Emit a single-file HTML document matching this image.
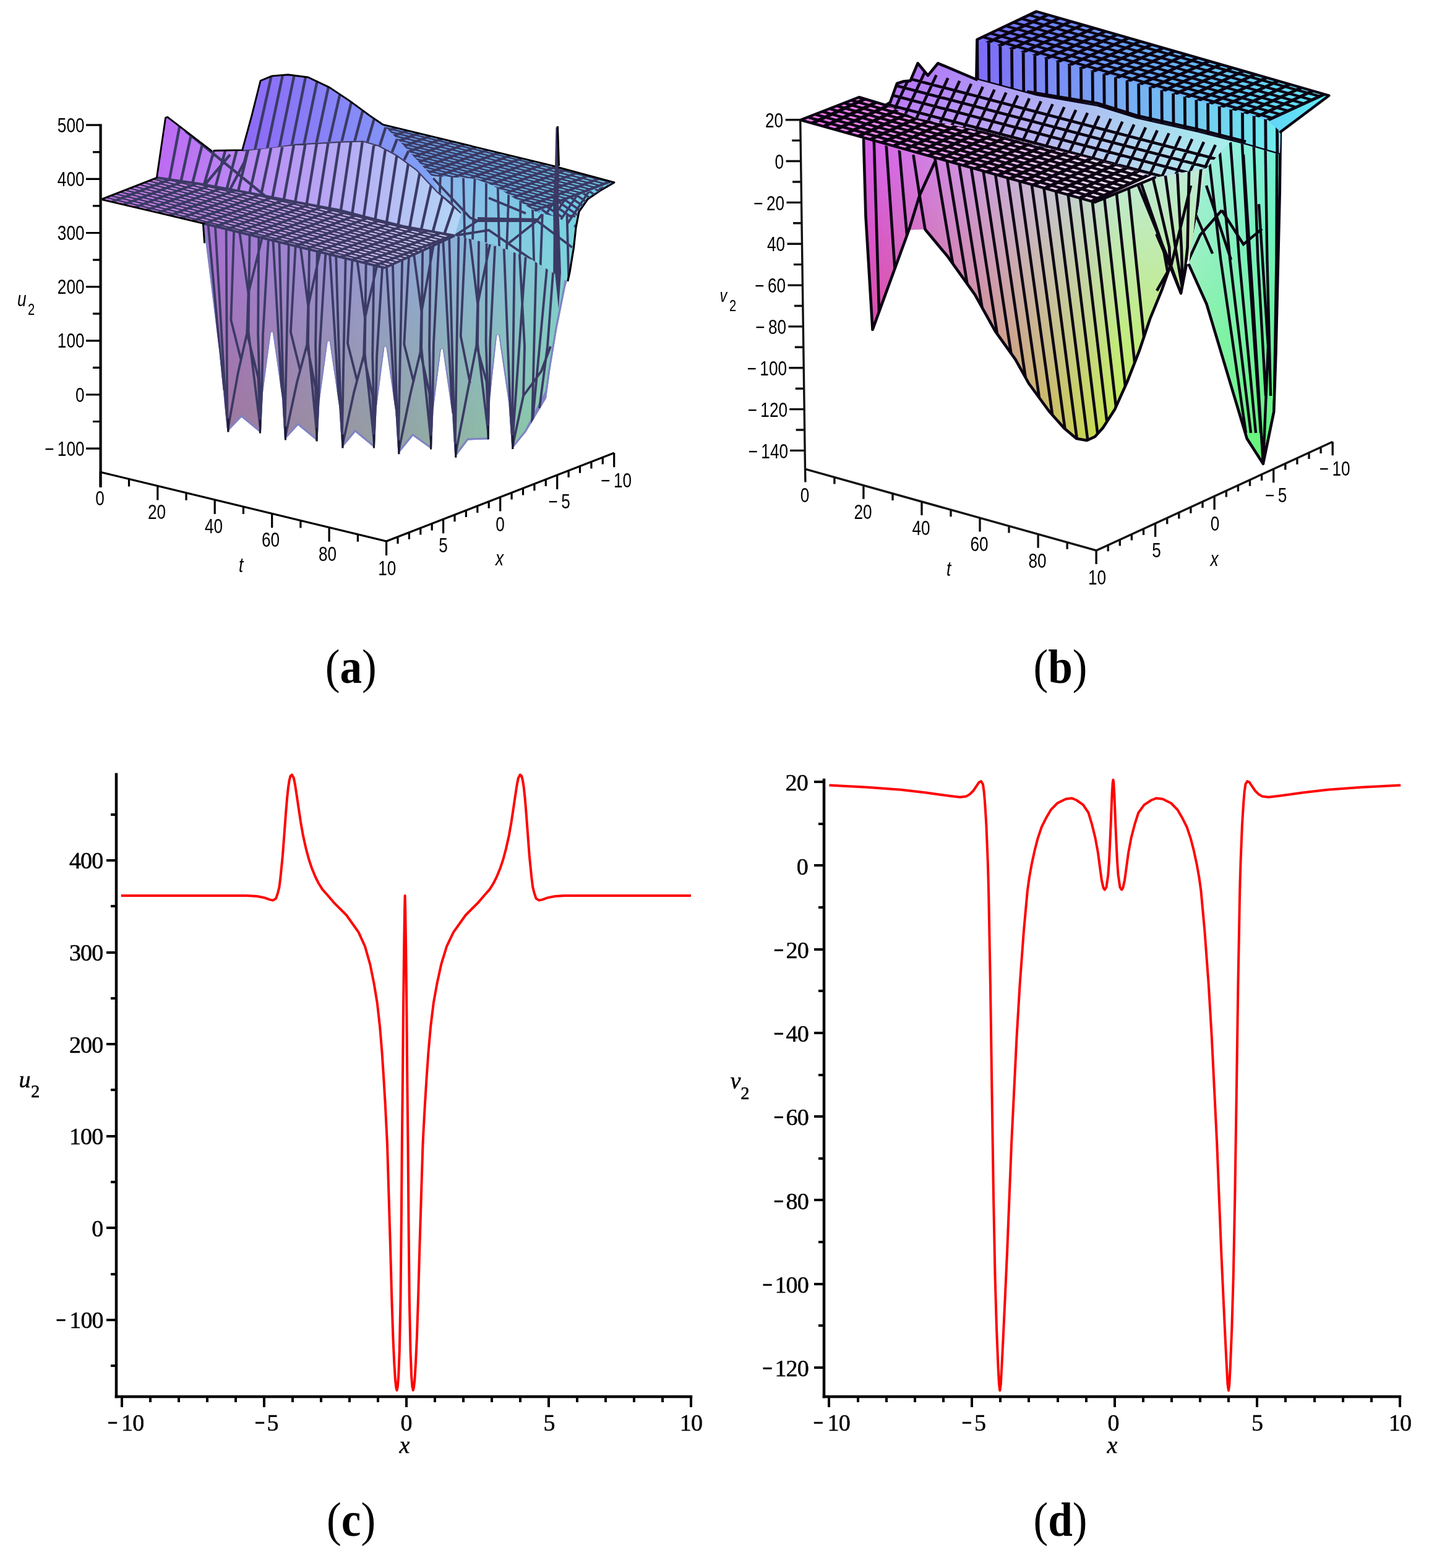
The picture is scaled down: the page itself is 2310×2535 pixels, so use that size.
<!DOCTYPE html>
<html><head><meta charset="utf-8"><title>Figure</title>
<style>html,body{margin:0;padding:0;background:#fff}svg{display:block}</style>
</head><body>
<svg width="2310" height="2535" viewBox="0 0 2310 2535">
<rect width="2310" height="2535" fill="#fff"/>
<defs><linearGradient id="a1" gradientUnits="userSpaceOnUse" x1="0" y1="199.3" x2="0" y2="369.7"><stop offset="0" stop-color="#6996eb"/><stop offset="1" stop-color="#6996eb"/></linearGradient><linearGradient id="b2" gradientUnits="userSpaceOnUse" x1="0" y1="199.3" x2="0" y2="369.7"><stop offset="0" stop-color="#70d4e4"/><stop offset="1" stop-color="#70d4e4"/></linearGradient><linearGradient id="h4" gradientUnits="userSpaceOnUse" x1="616.7" y1="0" x2="995" y2="0"><stop offset="0" stop-color="#000"/><stop offset="1" stop-color="#fff"/></linearGradient><mask id="m3" maskUnits="userSpaceOnUse" x="616.7" y="199.3" width="378.3" height="170.4"><rect x="616.7" y="199.3" width="378.3" height="170.4" fill="url(#h4)"/></mask><clipPath id="c5"><polygon points="618.7,201.3 896,268.7 993,294.8 972,307 950,322 933,346 929.8,367.7 900,352 870,345 802,302 767,289 698,285 650,233"/></clipPath></defs><g clip-path="url(#c5)"><rect x="616.7" y="199.3" width="378.3" height="170.4" fill="url(#a1)"/><rect x="616.7" y="199.3" width="378.3" height="170.4" fill="url(#b2)" mask="url(#m3)"/></g>
<path d="M162.3 322 L624.6 433.7M170 319 L632.3 430.7M177.6 316.1 L639.9 427.8M185.3 313.1 L647.6 424.8M193 310.1 L655.3 421.8M200.6 307.1 L662.9 418.8M208.3 304.2 L670.6 415.9M216 301.2 L678.3 412.9M223.7 298.2 L686 409.9M231.3 295.2 L693.6 406.9M239 292.3 L701.3 404M246.7 289.3 L709 401M254.3 286.3 L716.6 398M262 283.4 L724.3 395.1M269.7 280.4 L732 392.1M277.3 277.4 L739.6 389.1M285 274.4 L747.3 386.1M292.7 271.5 L755 383.2M300.3 268.5 L762.6 380.2M308 265.5 L770.3 377.2M315.7 262.5 L778 374.2M323.3 259.6 L785.6 371.3M331 256.6 L793.3 368.3M338.7 253.6 L801 365.3M346.4 250.7 L808.7 362.4M354 247.7 L816.3 359.4M361.7 244.7 L824 356.4M369.4 241.7 L831.7 353.4M377 238.8 L839.3 350.5M384.7 235.8 L847 347.5M392.4 232.8 L854.7 344.5M400 229.8 L862.3 341.5M407.7 226.9 L870 338.6M415.4 223.9 L877.7 335.6M423 220.9 L885.3 332.6M430.7 217.9 L893 329.6M438.4 215 L900.7 326.7M446 212 L908.3 323.7M453.7 209 L916 320.7M461.4 206.1 L923.7 317.8M469.1 203.1 L931.4 314.8M476.7 200.1 L939 311.8M484.4 197.1 L946.7 308.8M492.1 194.2 L954.4 305.9M499.7 191.2 L962 302.9M507.4 188.2 L969.7 299.9M515.1 185.2 L977.4 296.9M522.7 182.3 L985 294M530.4 179.3 L992.7 291" fill="none" stroke="#3b3a65" stroke-width="2.7" stroke-linecap="butt" clip-path="url(#c5)"/><path d="M162.3 322 L530.4 179.3M180.8 326.5 L548.9 183.8M199.3 330.9 L567.4 188.2M217.8 335.4 L585.9 192.7M236.3 339.9 L604.4 197.2M254.8 344.3 L622.9 201.6M273.3 348.8 L641.4 206.1M291.7 353.3 L659.8 210.6M310.2 357.7 L678.3 215M328.7 362.2 L696.8 219.5M347.2 366.7 L715.3 224M365.7 371.1 L733.8 228.4M384.2 375.6 L752.3 232.9M402.7 380.1 L770.8 237.4M421.2 384.6 L789.3 241.9M439.7 389 L807.8 246.3M458.2 393.5 L826.3 250.8M476.7 398 L844.8 255.3M495.2 402.4 L863.3 259.7M513.6 406.9 L881.7 264.2M532.1 411.4 L900.2 268.7M550.6 415.8 L918.7 273.1M569.1 420.3 L937.2 277.6M587.6 424.8 L955.7 282.1M606.1 429.2 L974.2 286.5M624.6 433.7 L992.7 291" fill="none" stroke="#3b3a65" stroke-width="4.2" stroke-linecap="butt" clip-path="url(#c5)"/>
<defs><linearGradient id="a6" gradientUnits="userSpaceOnUse" x1="0" y1="118.7" x2="0" y2="332"><stop offset="0" stop-color="#8e69f8"/><stop offset="1" stop-color="#8e69f8"/></linearGradient><linearGradient id="b7" gradientUnits="userSpaceOnUse" x1="0" y1="118.7" x2="0" y2="332"><stop offset="0" stop-color="#7da8f5"/><stop offset="1" stop-color="#7da8f5"/></linearGradient><linearGradient id="h9" gradientUnits="userSpaceOnUse" x1="389.7" y1="0" x2="730.6" y2="0"><stop offset="0" stop-color="#000"/><stop offset="1" stop-color="#fff"/></linearGradient><mask id="m8" maskUnits="userSpaceOnUse" x="389.7" y="118.7" width="340.9" height="213.3"><rect x="389.7" y="118.7" width="340.9" height="213.3" fill="url(#h9)"/></mask><clipPath id="c10"><polygon points="391.7,242.6 406.9,187.1 421.1,130.5 439.6,122.9 465.7,120.7 498.4,125 532.7,141.4 565.3,163.1 598,187.1 618.7,201.3 650,233 698,285 728.6,326.4 700,330 641.5,270 613,255 587,247.4 550,248.5 476.6,252.8 433,259.4 391.7,262"/></clipPath></defs><g clip-path="url(#c10)"><rect x="389.7" y="118.7" width="340.9" height="213.3" fill="url(#a6)"/><rect x="389.7" y="118.7" width="340.9" height="213.3" fill="url(#b7)" mask="url(#m8)"/></g>
<path d="M410.9 247.3 L438.5 123.4M429.4 251.7 L457 121.4M447.9 256.2 L475.5 122M466.4 260.7 L494 124.4M484.8 265.1 L512.5 131.7M503.3 269.6 L530.9 140.6M521.8 274.1 L549.4 152.5M540.3 278.6 L567.9 165M558.8 283 L586.4 178.6M577.3 287.5 L604.9 191.8M595.8 292 L623.4 206M614.3 296.4 L641.9 224.8M632.8 300.9 L660.4 244.2" fill="none" stroke="#3b3a65" stroke-width="4.4" stroke-linecap="butt" clip-path="url(#c10)"/>
<defs><linearGradient id="a11" gradientUnits="userSpaceOnUse" x1="0" y1="187.3" x2="0" y2="383"><stop offset="0" stop-color="#bc68f5"/><stop offset="1" stop-color="#c06ef0"/></linearGradient><linearGradient id="b12" gradientUnits="userSpaceOnUse" x1="0" y1="187.3" x2="0" y2="383"><stop offset="0" stop-color="#b0d4f6"/><stop offset="1" stop-color="#b4d7f4"/></linearGradient><linearGradient id="h14" gradientUnits="userSpaceOnUse" x1="251.4" y1="0" x2="748" y2="0"><stop offset="0" stop-color="#000"/><stop offset="1" stop-color="#fff"/></linearGradient><mask id="m13" maskUnits="userSpaceOnUse" x="251.4" y="187.3" width="496.6" height="195.7"><rect x="251.4" y="187.3" width="496.6" height="195.7" fill="url(#h14)"/></mask><clipPath id="c15"><polygon points="253.4,287.3 267.6,190.4 270.9,189.3 341.6,243.6 346,243.6 391.7,242.6 433,239.4 476.6,232.8 550,228.5 587,227.4 613,235 641.5,250.2 674.2,274.2 706.8,309 728.6,326.4 746,343.9 735,381 652,366 587,350 550,340 477,326.5 411,313.4 324,297.5"/></clipPath></defs><g clip-path="url(#c15)"><rect x="251.4" y="187.3" width="496.6" height="195.7" fill="url(#a11)"/><rect x="251.4" y="187.3" width="496.6" height="195.7" fill="url(#b12)" mask="url(#m13)"/></g>
<path d="M272.8 296.1 L290.3 204.2M291.3 298.8 L308.8 218.4M309.8 301.4 L327.3 232.6M328.3 304.3 L345.8 243.6M346.8 307.7 L364.2 243.2M365.2 311 L382.7 242.8M383.7 314.4 L401.2 241.9M402.2 317.8 L419.7 240.4M420.7 321.3 L438.2 238.6M439.2 325 L456.7 235.8M457.7 328.7 L475.2 233M476.2 332.3 L493.7 231.8M494.7 335.8 L512.2 230.7M513.2 339.2 L530.7 229.6M531.6 342.6 L549.1 228.5M550.1 346 L567.6 228M568.6 351 L586.1 227.4M587.1 356 L604.6 232.6M605.6 360.6 L623.1 240.4M624.1 365.1 L641.6 250.3M642.6 369.7 L660.1 263.8M661.1 373.6 L678.6 278.9M679.6 377 L697.1 298.6M698.1 380.3 L715.6 316M716.5 383.7 L734 331.9M300 212 L343 247 L430 318M330 300 L372 250M372 306 L395 262 L400 243M391.7 242.6 L476.6 232.8 L550 228.5 L587 227.4 L613 235 L641.5 250.2 L674.2 274.2 L706.8 309 L746 343.9" fill="none" stroke="#3b3a65" stroke-width="4.4" stroke-linecap="butt" clip-path="url(#c15)"/>
<defs><linearGradient id="a16" gradientUnits="userSpaceOnUse" x1="0" y1="358" x2="0" y2="741.7"><stop offset="0" stop-color="#aa6ed6"/><stop offset="1" stop-color="#a07296"/></linearGradient><linearGradient id="b17" gradientUnits="userSpaceOnUse" x1="0" y1="358" x2="0" y2="741.7"><stop offset="0" stop-color="#7ad0e0"/><stop offset="1" stop-color="#8ad2a5"/></linearGradient><linearGradient id="h19" gradientUnits="userSpaceOnUse" x1="326.3" y1="0" x2="927" y2="0"><stop offset="0" stop-color="#000"/><stop offset="1" stop-color="#fff"/></linearGradient><mask id="m18" maskUnits="userSpaceOnUse" x="326.3" y="358" width="600.7" height="383.7"><rect x="326.3" y="358" width="600.7" height="383.7" fill="url(#h19)"/></mask><clipPath id="c20"><polygon points="328.3,361 622,433 735,381 760,360 925,400 920,440 913.5,465.7 907,498.4 900.4,531 889.6,596 883,643.9 850.4,698.3 827.5,726.6 822.4,652.6 806.2,541.5 803.2,541.5 792.2,642.8 790.5,710.3 756.8,711.4 735.4,739.7 731,669.6 715.8,564.4 712.8,564.4 700.5,661.7 698,726.6 667.5,704.8 643.5,734.2 639.3,665 624.4,561.1 621.4,561.1 608.7,659.1 605.9,724.5 574.4,698.4 552.6,724.5 548,655.3 532.7,551.4 529.7,551.4 516.5,648.7 513.4,713.6 481.8,687.5 460,711.5 455.8,641.8 440.9,537.3 437.9,537.3 424.9,635.3 421.9,700.6 390.4,674.4 367.5,698.4 363.1,654.8 354.4,567.7 343.5,480.6 332.7,393.5"/></clipPath></defs><g clip-path="url(#c20)"><rect x="326.3" y="358" width="600.7" height="383.7" fill="url(#a16)"/><rect x="326.3" y="358" width="600.7" height="383.7" fill="url(#b17)" mask="url(#m18)"/></g>
<path d="M367.5 698.4 L390.4 674.4 L421.9 700.6M460 711.5 L481.8 687.5 L513.4 713.6M552.6 724.5 L574.4 698.4 L605.9 724.5M643.5 734.2 L667.5 704.8 L698 726.6M735.4 739.7 L756.8 711.4 L790.5 710.3M827.5 726.6 L850.4 698.3 L886 630M421.9 700.6 L424.9 635.3 L439.4 537.3 L455.8 641.8 L460 711.5M513.4 713.6 L516.5 648.7 L531.2 551.4 L548 655.3 L552.6 724.5M605.9 724.5 L608.7 659.1 L622.9 561.1 L639.3 665 L643.5 734.2M698 726.6 L700.5 661.7 L714.3 564.4 L731 669.6 L735.4 739.7M790.5 710.3 L792.2 642.8 L804.7 541.5 L822.4 652.6 L827.5 726.6M328.3 361 L332.7 393.5 L343.5 480.6 L354.4 567.7 L363.1 654.8 L367.5 698.4M925 400 L913.5 465.7 L900.4 531 L889.6 596 L883 643.9 L850.4 698.3 L827.5 726.6" fill="none" stroke="#7f83c4" stroke-width="6" stroke-linecap="butt" clip-path="url(#c20)"/>
<path d="M347.7 361.8 L359.6 563.7 L367.5 698.4M365.6 366.1 L366.7 565.5 L367.5 698.4M418.3 379.1 L417.1 539.8 L421.9 700.6M434.1 382.9 L425 541.8 L421.9 700.6M386.7 371.3 L401.5 474.4 L424.6 380.6M401.5 474.4 L399.3 538.7M367.5 698.4 L385 601.9 L399.3 538.7 L417.4 610.6 L421.9 700.6M378.3 369.2 L373.4 517.4 L389.8 582.6M403.6 375.5 L401.6 536.3 L421.9 700.6M336.1 358.9 L361.2 630.5M451.3 387.2 L456.5 581.8 L460 711.5M466.9 391 L462.8 583.3 L460 711.5M512.8 402.2 L510.1 557.9 L513.4 713.6M526.6 405.6 L517 559.6 L513.4 713.6M485.3 395.5 L498.2 495 L518.3 403.6M498.2 495 L496.3 557.1M460 711.5 L480 618.3 L496.3 557.1 L510 626.6 L513.4 713.6M478 393.7 L469.9 536.7 L485.4 599.6M500 399.1 L498 554.5 L513.4 713.6M441.2 384.7 L456.2 646.1M543.1 409.7 L548.8 598.6 L552.6 724.5M558.7 413.5 L555 600.1 L552.6 724.5M604.6 424.7 L602.2 574.6 L605.9 724.5M618.3 428.1 L609.1 576.3 L605.9 724.5M577 418 L589.9 514.3 L610.1 426.1M589.9 514.3 L588.1 574.4M552.6 724.5 L572.1 634.4 L588.1 574.4 L602.3 640.4 L605.9 724.5M569.7 416.2 L562 554.9 L577.4 616.4M591.7 421.6 L589.7 571.7 L605.9 724.5M533 407.2 L548.7 661M634.8 423.1 L640 609.8 L643.5 734.2M650.3 416 L646.2 606.9 L643.5 734.2M696 394.9 L694 560.8 L698 726.6M709.7 388.6 L700.9 557.6 L698 726.6M668.6 407.6 L681.4 504.3 L701.5 392.4M681.4 504.3 L679.6 568.9M643.5 734.2 L663.3 637.3 L679.6 568.9 L694.3 636.1 L698 726.6M661.3 410.9 L653.3 556.4 L668.7 617.9M683.2 400.8 L681.2 562.4 L698 726.6M624.7 427.7 L639.7 672.9M726.1 381.1 L731.7 596.3 L735.4 739.7M741.4 379 L737.8 595.4 L735.4 739.7M786.6 393.5 L785.6 551.9 L790.5 710.3M800.2 397.8 L792.3 554 L790.5 710.3M759.5 384.8 L772.2 491.7 L792 395.2M772.2 491.7 L770.3 558.3M735.4 739.7 L754.6 639.7 L770.3 558.3 L786.5 617 L790.5 710.3M752.3 382.5 L744.7 543.2 L759.9 619.7M774 389.4 L772 556.1 L790.5 710.3M716.1 385.7 L731.5 668.9M814.7 402.4 L821.1 564.5 L827.5 726.6M831.8 407.9 L829.6 567.2 L827.5 726.6M849.8 413.6 L838.7 570.1 L827.5 726.6M866.9 419.1 L863.4 554.5 L860 690M884.9 424.8 L872.5 557.4 L860 690M839.8 410.4 L848 560 L846 640 L827.5 726.6M895 428 L885 560 L872 660M846 640 L875 600 L890 560" fill="none" stroke="#3b3a65" stroke-width="3.8" stroke-linecap="butt" clip-path="url(#c20)"/>
<path d="M369 676.4 L369 698.4M420.4 678.6 L420.4 700.6M461.5 689.5 L461.5 711.5M511.9 691.6 L511.9 713.6M554.1 702.5 L554.1 724.5M604.4 702.5 L604.4 724.5M645 712.2 L645 734.2M696.5 704.6 L696.5 726.6M736.9 717.7 L736.9 739.7M789 688.3 L789 710.3M829 704 L829 726" fill="none" stroke="#1a1a30" stroke-width="3" stroke-linecap="butt"/>
<defs><linearGradient id="a21" gradientUnits="userSpaceOnUse" x1="0" y1="283" x2="0" y2="456.8"><stop offset="0" stop-color="#8cb4ee"/><stop offset="1" stop-color="#96c8e4"/></linearGradient><linearGradient id="b22" gradientUnits="userSpaceOnUse" x1="0" y1="283" x2="0" y2="456.8"><stop offset="0" stop-color="#70d0e4"/><stop offset="1" stop-color="#7dd6d8"/></linearGradient><linearGradient id="h24" gradientUnits="userSpaceOnUse" x1="696" y1="0" x2="935" y2="0"><stop offset="0" stop-color="#000"/><stop offset="1" stop-color="#fff"/></linearGradient><mask id="m23" maskUnits="userSpaceOnUse" x="696" y="283" width="239" height="173.8"><rect x="696" y="283" width="239" height="173.8" fill="url(#h24)"/></mask><clipPath id="c25"><polygon points="735,381 746,344 728.6,326.4 706.8,309 698,285 767,289 802,302 870,345 900,350 933,346 929.8,367.7 926.5,400 920,440 916.7,454.8 860,420 800,395"/></clipPath></defs><g clip-path="url(#c25)"><rect x="696" y="283" width="239" height="173.8" fill="url(#a21)"/><rect x="696" y="283" width="239" height="173.8" fill="url(#b22)" mask="url(#m23)"/></g>
<path d="M712 281.4 L706 460M730.5 283.7 L729.5 460M749 285.9 L753 460M767.5 288.1 L761.5 460M786 290.3 L785 460M804.5 292.5 L808.5 460M823 294.8 L817 460M841.5 297 L840.5 460M860 299.2 L864 460M878.5 301.4 L872.5 460M897 303.6 L896 460M915.5 305.9 L919.5 460M772 357 L868 357M772 353 L868 355M700 288 L760 352 L772 357M735 381 L772 357M868 357 L925 400M800 300 L860 330 L930 350M790 320 L850 345M868 357 L905 310M820 395 L868 357M735 381 L790 372 L860 420" fill="none" stroke="#3b3a65" stroke-width="3.8" stroke-linecap="butt" clip-path="url(#c25)"/>
<path d="M993 294.8 L972 307 L950 322 L936 342 L931 367.7 L927.5 400 L921 440 L917.7 454.8" fill="none" stroke="#000" stroke-width="3.2" stroke-linecap="butt"/>
<defs><clipPath id="bp2"><polygon points="870,343 900,351 929.8,367.7 933,346 950,322 972,307 993,294.8 940,314 890,330"/></clipPath></defs>
<path d="M770 290 L710 380M730 290 L820 352M785 290 L725 380M745 290 L835 352M800 290 L740 380M760 290 L850 352M815 290 L755 380M775 290 L865 352M830 290 L770 380M790 290 L880 352M845 290 L785 380M805 290 L895 352M860 290 L800 380M820 290 L910 352M875 290 L815 380M835 290 L925 352M890 290 L830 380M850 290 L940 352M905 290 L845 380M865 290 L955 352M920 290 L860 380M880 290 L970 352M935 290 L875 380M895 290 L985 352M950 290 L890 380M910 290 L1000 352M965 290 L905 380M925 290 L1015 352M980 290 L920 380M940 290 L1030 352M995 290 L935 380M955 290 L1045 352M1010 290 L950 380M970 290 L1060 352M1025 290 L965 380M985 290 L1075 352" fill="none" stroke="#3b3a65" stroke-width="3.6" stroke-linecap="butt" clip-path="url(#bp2)"/>
<polygon points="897,270 898.5,206 902.5,204 904,270 903,330 907,440 903,500 896,430 894,330" fill="#3b3a65"/>
<path d="M901.5 204 L903.5 268" fill="none" stroke="#000" stroke-width="3" stroke-linecap="butt"/>
<defs><linearGradient id="a26" gradientUnits="userSpaceOnUse" x1="0" y1="285.3" x2="0" y2="435"><stop offset="0" stop-color="#d078ec"/><stop offset="1" stop-color="#d078ec"/></linearGradient><linearGradient id="b27" gradientUnits="userSpaceOnUse" x1="0" y1="285.3" x2="0" y2="435"><stop offset="0" stop-color="#d6d8f2"/><stop offset="1" stop-color="#d6d8f2"/></linearGradient><linearGradient id="h29" gradientUnits="userSpaceOnUse" x1="161.5" y1="0" x2="737" y2="0"><stop offset="0" stop-color="#000"/><stop offset="1" stop-color="#fff"/></linearGradient><mask id="m28" maskUnits="userSpaceOnUse" x="161.5" y="285.3" width="575.5" height="149.7"><rect x="161.5" y="285.3" width="575.5" height="149.7" fill="url(#h29)"/></mask><clipPath id="c30"><polygon points="163.5,322.3 253.4,287.3 324,297.5 411,313.4 477,326.5 550,340 587,350 652,366 735,381 690,402 622,433"/></clipPath></defs><g clip-path="url(#c30)"><rect x="161.5" y="285.3" width="575.5" height="149.7" fill="url(#a26)"/><rect x="161.5" y="285.3" width="575.5" height="149.7" fill="url(#b27)" mask="url(#m28)"/></g>
<path d="M162.3 322 L624.6 433.7M170 319 L632.3 430.7M177.6 316.1 L639.9 427.8M185.3 313.1 L647.6 424.8M193 310.1 L655.3 421.8M200.6 307.1 L662.9 418.8M208.3 304.2 L670.6 415.9M216 301.2 L678.3 412.9M223.7 298.2 L686 409.9M231.3 295.2 L693.6 406.9M239 292.3 L701.3 404M246.7 289.3 L709 401M254.3 286.3 L716.6 398M262 283.4 L724.3 395.1M269.7 280.4 L732 392.1M277.3 277.4 L739.6 389.1M285 274.4 L747.3 386.1M292.7 271.5 L755 383.2M300.3 268.5 L762.6 380.2M308 265.5 L770.3 377.2M315.7 262.5 L778 374.2M323.3 259.6 L785.6 371.3M331 256.6 L793.3 368.3M338.7 253.6 L801 365.3M346.4 250.7 L808.7 362.4M354 247.7 L816.3 359.4M361.7 244.7 L824 356.4M369.4 241.7 L831.7 353.4M377 238.8 L839.3 350.5M384.7 235.8 L847 347.5M392.4 232.8 L854.7 344.5M400 229.8 L862.3 341.5M407.7 226.9 L870 338.6M415.4 223.9 L877.7 335.6M423 220.9 L885.3 332.6M430.7 217.9 L893 329.6M438.4 215 L900.7 326.7M446 212 L908.3 323.7M453.7 209 L916 320.7M461.4 206.1 L923.7 317.8M469.1 203.1 L931.4 314.8M476.7 200.1 L939 311.8M484.4 197.1 L946.7 308.8M492.1 194.2 L954.4 305.9M499.7 191.2 L962 302.9M507.4 188.2 L969.7 299.9M515.1 185.2 L977.4 296.9M522.7 182.3 L985 294M530.4 179.3 L992.7 291" fill="none" stroke="#3b3a65" stroke-width="2.7" stroke-linecap="butt" clip-path="url(#c30)"/><path d="M162.3 322 L530.4 179.3M180.8 326.5 L548.9 183.8M199.3 330.9 L567.4 188.2M217.8 335.4 L585.9 192.7M236.3 339.9 L604.4 197.2M254.8 344.3 L622.9 201.6M273.3 348.8 L641.4 206.1M291.7 353.3 L659.8 210.6M310.2 357.7 L678.3 215M328.7 362.2 L696.8 219.5M347.2 366.7 L715.3 224M365.7 371.1 L733.8 228.4M384.2 375.6 L752.3 232.9M402.7 380.1 L770.8 237.4M421.2 384.6 L789.3 241.9M439.7 389 L807.8 246.3M458.2 393.5 L826.3 250.8M476.7 398 L844.8 255.3M495.2 402.4 L863.3 259.7M513.6 406.9 L881.7 264.2M532.1 411.4 L900.2 268.7M550.6 415.8 L918.7 273.1M569.1 420.3 L937.2 277.6M587.6 424.8 L955.7 282.1M606.1 429.2 L974.2 286.5M624.6 433.7 L992.7 291" fill="none" stroke="#3b3a65" stroke-width="4.2" stroke-linecap="butt" clip-path="url(#c30)"/>
<path d="M253.4 287.3 L324 297.5 L411 313.4 L477 326.5 L550 340 L587 350 L652 366 L735 381M622 433 L690 402 L735 381" fill="none" stroke="#3b3a65" stroke-width="4" stroke-linecap="butt"/>
<path d="M328 361 L622 433" fill="none" stroke="#3b3a65" stroke-width="4" stroke-linecap="butt"/>
<path d="M330 361.5 L163.5 322.3 L253.4 287.3 L267.6 190.4 L270.9 189.3 L341.6 243.6M346 243.5 L391.7 242.6 L406.9 187.1 L421.1 130.5 L439.6 122.9 L465.7 120.7 L498.4 125 L532.7 141.4 L565.3 163.1 L598 187.1 L618.7 201.3 L896 268.7M904 271 L993 294.8M328.3 361 L330.5 392" fill="none" stroke="#000" stroke-width="2.9" stroke-linecap="round" stroke-linejoin="round"/>
<path d="M162.6 200.5 L162.6 788" fill="none" stroke="#111" stroke-width="4.4" stroke-linecap="butt"/>
<path d="M139 202.2 L162.3 202.2M139 289.4 L162.3 289.4M139 376.5 L162.3 376.5M139 463.7 L162.3 463.7M139 550.8 L162.3 550.8M139 638 L162.3 638M139 725.1 L162.3 725.1M150 245.8 L162.3 245.8M150 332.9 L162.3 332.9M150 420.1 L162.3 420.1M150 507.2 L162.3 507.2M150 594.4 L162.3 594.4M150 681.5 L162.3 681.5M162.3 763.3 L624.6 875 L992.7 732.3M162.3 763.3 L162.3 786.3M208.5 774.5 L208.5 786.5M254.8 785.6 L254.8 808.6M301 796.8 L301 808.8M347.2 808 L347.2 831M393.4 819.1 L393.4 831.1M439.7 830.3 L439.7 853.3M485.9 841.5 L485.9 853.5M532.1 852.7 L532.1 875.7M578.4 863.8 L578.4 875.8M624.6 875 L624.6 898M643 867.9 L643 878.9M661.4 860.7 L661.4 871.7M679.8 853.6 L679.8 864.6M698.2 846.5 L698.2 857.5M716.6 839.3 L716.6 862.3M735 832.2 L735 843.2M753.4 825.1 L753.4 836.1M771.8 817.9 L771.8 828.9M790.2 810.8 L790.2 821.8M808.7 803.6 L808.7 826.6M827.1 796.5 L827.1 807.5M845.5 789.4 L845.5 800.4M863.9 782.2 L863.9 793.2M882.3 775.1 L882.3 786.1M900.7 768 L900.7 791M919.1 760.8 L919.1 771.8M937.5 753.7 L937.5 764.7M955.9 746.6 L955.9 757.6M974.3 739.4 L974.3 750.4M992.7 732.3 L992.7 755.3" fill="none" stroke="#000" stroke-width="3.2" stroke-linecap="butt"/>
<g font-family="Liberation Sans, sans-serif" fill="#000">
<text transform="translate(136.5 213.8) scale(0.8 1)" font-size="32.7" text-anchor="end">500</text>
<text transform="translate(136.5 301) scale(0.8 1)" font-size="32.7" text-anchor="end">400</text>
<text transform="translate(136.5 388.1) scale(0.8 1)" font-size="32.7" text-anchor="end">300</text>
<text transform="translate(136.5 475.3) scale(0.8 1)" font-size="32.7" text-anchor="end">200</text>
<text transform="translate(136.5 562.4) scale(0.8 1)" font-size="32.7" text-anchor="end">100</text>
<text transform="translate(136.5 649.6) scale(0.8 1)" font-size="32.7" text-anchor="end">0</text>
<text transform="translate(136.5 736.7) scale(0.8 1)" font-size="32.7" text-anchor="end">−<tspan dx="7">100</tspan></text>
<text transform="translate(161.5 816.5) scale(0.8 1)" font-size="32.7" text-anchor="middle">0</text>
<text transform="translate(253.5 839.1) scale(0.8 1)" font-size="32.7" text-anchor="middle">20</text>
<text transform="translate(345.5 861.7) scale(0.8 1)" font-size="32.7" text-anchor="middle">40</text>
<text transform="translate(437.5 884.3) scale(0.8 1)" font-size="32.7" text-anchor="middle">60</text>
<text transform="translate(529.5 906.9) scale(0.8 1)" font-size="32.7" text-anchor="middle">80</text>
<text transform="translate(625.8 929.9) scale(0.8 1)" font-size="32.7" text-anchor="middle">10</text>
<text transform="translate(716.4 893) scale(0.8 1)" font-size="32.7" text-anchor="middle">5</text>
<text transform="translate(808.6 858.7) scale(0.8 1)" font-size="32.7" text-anchor="middle">0</text>
<text transform="translate(904 822.1) scale(0.8 1)" font-size="32.7" text-anchor="middle">−<tspan dx="7">5</tspan></text>
<text transform="translate(996 787.8) scale(0.8 1)" font-size="32.7" text-anchor="middle">−<tspan dx="7">10</tspan></text>
<text transform="translate(386 925) scale(0.8 1)" font-size="32.7" text-anchor="start" font-style="italic">t</text>
<text transform="translate(801 914.2) scale(0.8 1)" font-size="32.7" text-anchor="start" font-style="italic">x</text>
<text transform="translate(28 495.2) scale(0.8 1)" font-size="32.7" text-anchor="start" font-style="italic">u</text>
<text transform="translate(45 509) scale(0.8 1)" font-size="25.1" text-anchor="start">2</text>
</g>
<defs><linearGradient id="a31" gradientUnits="userSpaceOnUse" x1="0" y1="222" x2="0" y2="720"><stop offset="0" stop-color="#d860ec"/><stop offset="1" stop-color="#de3a7d"/></linearGradient><linearGradient id="b32" gradientUnits="userSpaceOnUse" x1="0" y1="222" x2="0" y2="720"><stop offset="0" stop-color="#beeae8"/><stop offset="1" stop-color="#c4ec48"/></linearGradient><linearGradient id="h34" gradientUnits="userSpaceOnUse" x1="1400" y1="0" x2="1810" y2="0"><stop offset="0" stop-color="#000"/><stop offset="1" stop-color="#fff"/></linearGradient><mask id="m33" maskUnits="userSpaceOnUse" x="1393" y="220" width="559" height="494"><rect x="1393" y="220" width="559" height="494" fill="url(#h34)"/></mask><clipPath id="c35"><polygon points="1395,222 1769.8,327 1867,287 1950,270 1925,400 1917.7,428.4 1909,474.1 1891.6,430.6 1878.6,467.6 1859,515.5 1841.5,567.7 1821.9,617.8 1802.3,661.4 1782.7,691.9 1770,706 1757,712 1740,709 1720,692 1696,665 1663.1,620 1641.3,580.8 1608.6,535.1 1576,476.3 1532.4,415.3 1495.4,370.7 1469.3,371.8 1410.5,532.9 1398.5,350 1395,228"/></clipPath></defs><g clip-path="url(#c35)"><rect x="1393" y="220" width="559" height="494" fill="url(#a31)"/><rect x="1393" y="220" width="559" height="494" fill="url(#b32)" mask="url(#m33)"/></g>
<path d="M1510.6 251.4 L1595.5 754.4M1530.2 256.8 L1613.1 759.8M1549.8 262.3 L1630.6 765.3M1569.4 267.8 L1648.1 770.8M1589 273.2 L1665.6 776.2M1608.6 278.7 L1683.1 781.7M1628.2 284.1 L1700.7 787.1M1647.8 289.6 L1718.2 792.6M1667.4 295.1 L1735.7 798.1M1687 300.5 L1753.2 803.5M1706.6 306 L1770.7 809M1726.2 311.5 L1788.3 814.5M1745.8 316.9 L1805.8 819.9M1765.4 322.4 L1823.3 825.4M1785 317.9 L1840.8 820.9M1804.6 309.8 L1858.4 812.8M1824.2 301.8 L1875.9 804.8M1843.8 293.7 L1880.4 400 L1893 470M1863.4 285.7 L1890.2 400 L1893 470M1883 277.7 L1900 400 L1912 470M1902.6 269.6 L1909.8 400 L1912 470M1922.2 269 L1919.6 400 L1912 470M1941.8 269 L1929.4 400 L1912 470M1840 300 L1893 430 L1909 474M1925 300 L1893 430 L1870 470" fill="none" stroke="#0b0212" stroke-width="4.6" stroke-linecap="butt" clip-path="url(#c35)"/>
<defs><clipPath id="spk"><polygon points="1393,222 1510.6,263 1486.5,316 1469.3,372 1410.5,533 1398.5,350"/></clipPath></defs>
<path d="M1412.7 224.1 L1422.3 547.1M1432.3 229.5 L1454.7 552.5M1453.2 235.4 L1482 558.4" fill="none" stroke="#0b0212" stroke-width="4.6" stroke-linecap="butt" clip-path="url(#spk)"/>
<path d="M1396 226 L1399.5 350 L1410.5 532.9 L1469.3 371.8 L1486.5 316 L1510.6 263M1476.7 252 L1486.5 316 L1495.4 370.7 L1532.4 415.3 L1576 476.3 L1608.6 535.1 L1641.3 580.8 L1663.1 620 L1696 665 L1720 692 L1740 709 L1757 712 L1770 706 L1782.7 691.9 L1802.3 661.4 L1821.9 617.8 L1841.5 567.7 L1859 515.5 L1878.6 467.6 L1891.6 430.6 L1909 474.1 L1917.7 428.4M1891.6 430.6 L1870 380" fill="none" stroke="#0b0212" stroke-width="4.6" stroke-linecap="round" stroke-linejoin="round"/>
<defs><linearGradient id="a36" gradientUnits="userSpaceOnUse" x1="0" y1="211.3" x2="0" y2="752"><stop offset="0" stop-color="#b2eee6"/><stop offset="1" stop-color="#7df487"/></linearGradient><linearGradient id="b37" gradientUnits="userSpaceOnUse" x1="0" y1="211.3" x2="0" y2="752"><stop offset="0" stop-color="#70f0de"/><stop offset="1" stop-color="#5cf670"/></linearGradient><linearGradient id="h39" gradientUnits="userSpaceOnUse" x1="1920" y1="0" x2="2072" y2="0"><stop offset="0" stop-color="#000"/><stop offset="1" stop-color="#fff"/></linearGradient><mask id="m38" maskUnits="userSpaceOnUse" x="1920" y="211.3" width="152" height="540.7"><rect x="1920" y="211.3" width="152" height="540.7" fill="url(#h39)"/></mask><clipPath id="c40"><polygon points="1950,270 1946,236 2070,213.3 2068.8,311.3 2065.8,437 2062.5,572 2059.3,665.7 2041.9,750 2015.7,709.3 1983,600.4 1950.4,491.5 1922,428.4 1925,400"/></clipPath></defs><g clip-path="url(#c40)"><rect x="1920" y="211.3" width="152" height="540.7" fill="url(#a36)"/><rect x="1920" y="211.3" width="152" height="540.7" fill="url(#b37)" mask="url(#m38)"/></g>
<path d="M1951.4 230 L1973.3 420 L2014 700M1970.2 230 L1988.3 420 L2022 700M1989 230 L2003.3 420 L2030 700M2007.8 230 L2018.4 420 L2038 700M2026.6 230 L2033.4 420 L2046 640M2045.4 230 L2048.4 420 L2054 640M2064.2 230 L2063.4 420 L2060 640M1922 428.4 L1950.4 491.5 L1983 600.4 L2015.7 709.3 L2041.9 750 L2059.3 665.7 L2062.5 572 L2065.8 437 L2068.8 311.3 L2070 213.3M1917.7 428.4 L1940 380 L1975 340M1975 340 L2010 395 L2040 370M1950 300 L1990 420M2035 330 L2050 560 L2041.9 750M2010 250 L2025 480 L2041.9 750M1930 340 L1960 410" fill="none" stroke="#0b0212" stroke-width="4.4" stroke-linecap="butt" clip-path="url(#c40)"/>
<path d="M1922 428.4 L1950.4 491.5 L1983 600.4 L2015.7 709.3 L2041.9 750 L2059.3 665.7 L2062.5 572 L2065.8 437 L2068.8 311.3 L2070 213.3" fill="none" stroke="#0b0212" stroke-width="4.4" stroke-linecap="round" stroke-linejoin="round"/>
<defs><linearGradient id="a41" gradientUnits="userSpaceOnUse" x1="0" y1="100.3" x2="0" y2="289"><stop offset="0" stop-color="#b469fa"/><stop offset="1" stop-color="#cd96f5"/></linearGradient><linearGradient id="b42" gradientUnits="userSpaceOnUse" x1="0" y1="100.3" x2="0" y2="289"><stop offset="0" stop-color="#96f0ee"/><stop offset="1" stop-color="#aff0eb"/></linearGradient><linearGradient id="h44" gradientUnits="userSpaceOnUse" x1="1430" y1="0" x2="1992" y2="0"><stop offset="0" stop-color="#000"/><stop offset="1" stop-color="#fff"/></linearGradient><mask id="m43" maskUnits="userSpaceOnUse" x="1430" y="100.3" width="562" height="188.7"><rect x="1430" y="100.3" width="562" height="188.7" fill="url(#h44)"/></mask><clipPath id="c45"><polygon points="1432,170 1439,165.5 1450,135 1461,131.5 1471.6,130.6 1483.6,102.3 1500,122 1516.3,102.3 1578.3,128.5 1676,155 1774,172 1838,192 1936,214 1990,228 1950,272 1867,287 1806.6,266.9 1698,240.7 1589,212 1480,190.6"/></clipPath></defs><g clip-path="url(#c45)"><rect x="1430" y="100.3" width="562" height="188.7" fill="url(#a41)"/><rect x="1430" y="100.3" width="562" height="188.7" fill="url(#b42)" mask="url(#m43)"/></g>
<path d="M1440 190 L1476 112M1458.8 194.7 L1494.8 116.7M1477.6 199.4 L1513.6 121.4M1496.4 204.1 L1532.4 126.1M1515.2 208.8 L1551.2 130.8M1534 213.5 L1570 135.5M1552.8 218.2 L1588.8 140.2M1571.6 222.9 L1607.6 144.9M1590.4 227.6 L1626.4 149.6M1609.2 232.3 L1645.2 154.3M1628 237 L1664 159M1646.8 241.7 L1682.8 163.7M1665.6 246.4 L1701.6 168.4M1684.4 251.1 L1720.4 173.1M1703.2 255.8 L1739.2 177.8M1722 260.5 L1758 182.5M1740.8 265.2 L1776.8 187.2M1759.6 269.9 L1795.6 191.9M1778.4 274.6 L1814.4 196.6M1797.2 279.3 L1833.2 201.3M1816 284 L1852 206M1834.8 288.7 L1870.8 210.7M1853.6 293.4 L1889.6 215.4M1872.4 298.1 L1908.4 220.1M1891.2 302.8 L1927.2 224.8M1910 307.5 L1946 229.5M1928.8 312.2 L1964.8 234.2M1947.6 316.9 L1983.6 238.9M1966.4 321.6 L2002.4 243.6M1985.2 326.3 L2021.2 248.3M2004 331 L2040 253M2022.8 335.7 L2058.8 257.7M1420 182 L2080 354.9M1420 165 L2080 337.9M1420 148 L2080 320.9M1420 131 L2080 303.9M1420 114 L2080 286.9" fill="none" stroke="#0b0212" stroke-width="4.6" stroke-linecap="butt" clip-path="url(#c45)"/>
<path d="M1432 170 L1439 165.5 L1450 135 L1461 131.5 L1471.6 130.6 L1483.6 102.3 L1500 122 L1516.3 102.3 L1578.3 128.5" fill="none" stroke="#0b0212" stroke-width="4.6" stroke-linecap="round" stroke-linejoin="round"/>
<defs><linearGradient id="a46" gradientUnits="userSpaceOnUse" x1="0" y1="62" x2="0" y2="252"><stop offset="0" stop-color="#7d69f8"/><stop offset="1" stop-color="#8273f5"/></linearGradient><linearGradient id="b47" gradientUnits="userSpaceOnUse" x1="0" y1="62" x2="0" y2="252"><stop offset="0" stop-color="#69ebf0"/><stop offset="1" stop-color="#6eeeec"/></linearGradient><linearGradient id="h49" gradientUnits="userSpaceOnUse" x1="1576.3" y1="0" x2="2072" y2="0"><stop offset="0" stop-color="#000"/><stop offset="1" stop-color="#fff"/></linearGradient><mask id="m48" maskUnits="userSpaceOnUse" x="1576.3" y="62" width="495.7" height="190"><rect x="1576.3" y="62" width="495.7" height="190" fill="url(#h49)"/></mask><clipPath id="c50"><polygon points="1578.3,128.5 1579.4,64 2050,194 2070,213.3 2069,250 2014,234 1936,214 1838,192 1774,172 1676,155"/></clipPath></defs><g clip-path="url(#c50)"><rect x="1576.3" y="62" width="495.7" height="190" fill="url(#a46)"/><rect x="1576.3" y="62" width="495.7" height="190" fill="url(#b47)" mask="url(#m48)"/></g>
<path d="M1579.4 40 L1581.4 270M1598 40 L1600 270M1616.6 40 L1618.6 270M1635.2 40 L1637.2 270M1653.8 40 L1655.8 270M1672.4 40 L1674.4 270M1691 40 L1693 270M1709.6 40 L1711.6 270M1728.2 40 L1730.2 270M1746.8 40 L1748.8 270M1765.4 40 L1767.4 270M1784 40 L1786 270M1802.6 40 L1804.6 270M1821.2 40 L1823.2 270M1839.8 40 L1841.8 270M1858.4 40 L1860.4 270M1877 40 L1879 270M1895.6 40 L1897.6 270M1914.2 40 L1916.2 270M1932.8 40 L1934.8 270M1951.4 40 L1953.4 270M1970 40 L1972 270M1988.6 40 L1990.6 270M2007.2 40 L2009.2 270M2025.8 40 L2027.8 270M2044.4 40 L2046.4 270M2063 40 L2065 270M2081.6 40 L2083.6 270M1578.3 128.5 L1676 155 L1774 172 L1838 192 L1936 214 L2014 234 L2069 250M1660 148 L1774 167 L1838 187 L1936 209 L2014 229" fill="none" stroke="#0b0212" stroke-width="4.8" stroke-linecap="butt" clip-path="url(#c50)"/>
<defs><linearGradient id="a51" gradientUnits="userSpaceOnUse" x1="0" y1="16.5" x2="0" y2="215.3"><stop offset="0" stop-color="#7369fa"/><stop offset="1" stop-color="#7369fa"/></linearGradient><linearGradient id="b52" gradientUnits="userSpaceOnUse" x1="0" y1="16.5" x2="0" y2="215.3"><stop offset="0" stop-color="#5febf5"/><stop offset="1" stop-color="#5febf5"/></linearGradient><linearGradient id="h54" gradientUnits="userSpaceOnUse" x1="1577.4" y1="0" x2="2150.3" y2="0"><stop offset="0" stop-color="#000"/><stop offset="1" stop-color="#fff"/></linearGradient><mask id="m53" maskUnits="userSpaceOnUse" x="1577.4" y="16.5" width="572.9" height="198.8"><rect x="1577.4" y="16.5" width="572.9" height="198.8" fill="url(#h54)"/></mask><clipPath id="c55"><polygon points="1579.4,64 1675.1,18.5 2148.3,154.5 2070,213.3 2050,194"/></clipPath></defs><g clip-path="url(#c55)"><rect x="1577.4" y="16.5" width="572.9" height="198.8" fill="url(#a51)"/><rect x="1577.4" y="16.5" width="572.9" height="198.8" fill="url(#b52)" mask="url(#m53)"/></g>
<path d="M1294 194 L1764 325.6M1306.7 188.1 L1776.7 319.7M1319.5 182.3 L1789.5 313.9M1332.2 176.4 L1802.2 308M1344.9 170.6 L1814.9 302.2M1357.7 164.7 L1827.7 296.3M1370.4 158.9 L1840.4 290.5M1383.2 153 L1853.2 284.6M1395.9 147.1 L1865.9 278.7M1408.6 141.3 L1878.6 272.9M1421.4 135.4 L1891.4 267M1434.1 129.6 L1904.1 261.2M1446.8 123.7 L1916.8 255.3M1459.6 117.9 L1929.6 249.5M1472.3 112 L1942.3 243.6M1485 106.2 L1955 237.8M1497.8 100.3 L1967.8 231.9M1510.5 94.4 L1980.5 226M1523.3 88.6 L1993.3 220.2M1536 82.7 L2006 214.3M1548.7 76.9 L2018.7 208.5M1561.5 71 L2031.5 202.6M1574.2 65.2 L2044.2 196.8M1586.9 59.3 L2056.9 190.9M1599.7 53.4 L2069.7 185M1612.4 47.6 L2082.4 179.2M1625.2 41.7 L2095.2 173.3M1637.9 35.9 L2107.9 167.5M1650.6 30 L2120.6 161.6M1663.4 24.2 L2133.4 155.8M1676.1 18.3 L2146.1 149.9" fill="none" stroke="#0b0212" stroke-width="4.2" stroke-linecap="butt" clip-path="url(#c55)"/><path d="M1294 194 L1676.1 18.3M1312.8 199.3 L1694.9 23.6M1331.6 204.5 L1713.7 28.8M1350.4 209.8 L1732.5 34.1M1369.2 215.1 L1751.3 39.4M1388 220.3 L1770.1 44.6M1406.8 225.6 L1788.9 49.9M1425.6 230.8 L1807.7 55.1M1444.4 236.1 L1826.5 60.4M1463.2 241.4 L1845.3 65.7M1482 246.6 L1864.1 70.9M1500.8 251.9 L1882.9 76.2M1519.6 257.2 L1901.7 81.5M1538.4 262.4 L1920.5 86.7M1557.2 267.7 L1939.3 92M1576 273 L1958.1 97.3M1594.8 278.2 L1976.9 102.5M1613.6 283.5 L1995.7 107.8M1632.4 288.8 L2014.5 113.1M1651.2 294 L2033.3 118.3M1670 299.3 L2052.1 123.6M1688.8 304.5 L2070.9 128.8M1707.6 309.8 L2089.7 134.1M1726.4 315.1 L2108.5 139.4M1745.2 320.3 L2127.3 144.6M1764 325.6 L2146.1 149.9" fill="none" stroke="#0b0212" stroke-width="5" stroke-linecap="butt" clip-path="url(#c55)"/>
<path d="M1578.3 128.5 L1579.4 64 L1675.1 18.5 L2148.3 154.5 L2070 213.3" fill="none" stroke="#0b0212" stroke-width="4.4" stroke-linecap="round" stroke-linejoin="round"/>
<defs><linearGradient id="a56" gradientUnits="userSpaceOnUse" x1="0" y1="155" x2="0" y2="329"><stop offset="0" stop-color="#eb6eeb"/><stop offset="1" stop-color="#eb6eeb"/></linearGradient><linearGradient id="b57" gradientUnits="userSpaceOnUse" x1="0" y1="155" x2="0" y2="329"><stop offset="0" stop-color="#f0f0fa"/><stop offset="1" stop-color="#f0f0fa"/></linearGradient><linearGradient id="h59" gradientUnits="userSpaceOnUse" x1="1292" y1="0" x2="1869" y2="0"><stop offset="0" stop-color="#000"/><stop offset="1" stop-color="#fff"/></linearGradient><mask id="m58" maskUnits="userSpaceOnUse" x="1292" y="155" width="577" height="174"><rect x="1292" y="155" width="577" height="174" fill="url(#h59)"/></mask><clipPath id="c60"><polygon points="1294,194 1389,157 1432,170 1480,190.6 1589,212 1698,240.7 1806.6,266.9 1867,287 1769.8,327"/></clipPath></defs><g clip-path="url(#c60)"><rect x="1292" y="155" width="577" height="174" fill="url(#a56)"/><rect x="1292" y="155" width="577" height="174" fill="url(#b57)" mask="url(#m58)"/></g>
<path d="M1294 194 L1764 325.6M1304.6 189.1 L1774.6 320.7M1315.2 184.2 L1785.2 315.8M1325.8 179.4 L1795.8 311M1336.5 174.5 L1806.5 306.1M1347.1 169.6 L1817.1 301.2M1357.7 164.7 L1827.7 296.3M1368.3 159.8 L1838.3 291.4M1378.9 155 L1848.9 286.6M1389.5 150.1 L1859.5 281.7M1400.1 145.2 L1870.1 276.8M1410.8 140.3 L1880.8 271.9M1421.4 135.4 L1891.4 267M1432 130.6 L1902 262.2M1442.6 125.7 L1912.6 257.3M1453.2 120.8 L1923.2 252.4M1463.8 115.9 L1933.8 247.5M1474.4 111 L1944.4 242.6M1485 106.2 L1955 237.8M1495.7 101.3 L1965.7 232.9M1506.3 96.4 L1976.3 228M1516.9 91.5 L1986.9 223.1M1527.5 86.6 L1997.5 218.2M1538.1 81.7 L2008.1 213.3M1548.7 76.9 L2018.7 208.5M1559.3 72 L2029.3 203.6M1570 67.1 L2040 198.7M1580.6 62.2 L2050.6 193.8M1591.2 57.3 L2061.2 188.9M1601.8 52.5 L2071.8 184.1M1612.4 47.6 L2082.4 179.2M1623 42.7 L2093 174.3M1633.6 37.8 L2103.6 169.4M1644.3 32.9 L2114.3 164.5M1654.9 28.1 L2124.9 159.7M1665.5 23.2 L2135.5 154.8M1676.1 18.3 L2146.1 149.9" fill="none" stroke="#0b0212" stroke-width="4.4" stroke-linecap="butt" clip-path="url(#c60)"/><path d="M1294 194 L1676.1 18.3M1312.8 199.3 L1694.9 23.6M1331.6 204.5 L1713.7 28.8M1350.4 209.8 L1732.5 34.1M1369.2 215.1 L1751.3 39.4M1388 220.3 L1770.1 44.6M1406.8 225.6 L1788.9 49.9M1425.6 230.8 L1807.7 55.1M1444.4 236.1 L1826.5 60.4M1463.2 241.4 L1845.3 65.7M1482 246.6 L1864.1 70.9M1500.8 251.9 L1882.9 76.2M1519.6 257.2 L1901.7 81.5M1538.4 262.4 L1920.5 86.7M1557.2 267.7 L1939.3 92M1576 273 L1958.1 97.3M1594.8 278.2 L1976.9 102.5M1613.6 283.5 L1995.7 107.8M1632.4 288.8 L2014.5 113.1M1651.2 294 L2033.3 118.3M1670 299.3 L2052.1 123.6M1688.8 304.5 L2070.9 128.8M1707.6 309.8 L2089.7 134.1M1726.4 315.1 L2108.5 139.4M1745.2 320.3 L2127.3 144.6M1764 325.6 L2146.1 149.9" fill="none" stroke="#0b0212" stroke-width="5.4" stroke-linecap="butt" clip-path="url(#c60)"/>
<path d="M1769.8 327 L1294 194 L1389 157 L1432 170M1769.8 327 L1867 287" fill="none" stroke="#0b0212" stroke-width="4.2" stroke-linecap="round" stroke-linejoin="round"/>
<path d="M1293.7 193.7 L1301.5 758.4 L1301.9 779.5M1269.7 193.7 L1293.7 193.7M1270.6 260.5 L1294.6 260.5M1271.5 327.4 L1295.5 327.4M1272.5 394.2 L1296.5 394.2M1273.4 461.1 L1297.4 461.1M1274.3 527.9 L1298.3 527.9M1275.2 594.7 L1299.2 594.7M1276.2 661.6 L1300.2 661.6M1277.1 728.4 L1301.1 728.4M1280.2 227.1 L1294.2 227.1M1281.1 294 L1295.1 294M1282 360.8 L1296 360.8M1282.9 427.6 L1296.9 427.6M1283.9 494.5 L1297.9 494.5M1284.8 561.3 L1298.8 561.3M1285.7 628.2 L1299.7 628.2M1286.6 695 L1300.6 695M1301.9 758.4 L1772.1 890 L2154.2 714.3M1348.9 771.6 L1348.9 782.6M1395.9 784.7 L1395.9 806.7M1443 797.9 L1443 808.9M1490 811 L1490 833M1537 824.2 L1537 835.2M1584 837.4 L1584 859.4M1631 850.5 L1631 861.5M1678.1 863.7 L1678.1 885.7M1725.1 876.8 L1725.1 887.8M1772.1 890 L1772.1 912M1791.2 881.2 L1791.2 891.2M1810.3 872.4 L1810.3 882.4M1829.4 863.6 L1829.4 873.6M1848.5 854.9 L1848.5 864.9M1867.6 846.1 L1867.6 868.1M1886.7 837.3 L1886.7 847.3M1905.8 828.5 L1905.8 838.5M1924.9 819.7 L1924.9 829.7M1944 810.9 L1944 820.9M1963.1 802.1 L1963.1 824.1M1982.3 793.4 L1982.3 803.4M2001.4 784.6 L2001.4 794.6M2020.5 775.8 L2020.5 785.8M2039.6 767 L2039.6 777M2058.7 758.2 L2058.7 780.2M2077.8 749.4 L2077.8 759.4M2096.9 740.7 L2096.9 750.7M2116 731.9 L2116 741.9M2135.1 723.1 L2135.1 733.1M2154.2 714.3 L2154.2 736.3" fill="none" stroke="#111" stroke-width="3.4" stroke-linecap="butt"/>
<g font-family="Liberation Sans, sans-serif" fill="#000">
<text transform="translate(1266 205.9) scale(0.8 1)" font-size="32.7" text-anchor="end">20</text>
<text transform="translate(1267 272.7) scale(0.8 1)" font-size="32.7" text-anchor="end">0</text>
<text transform="translate(1268 339.6) scale(0.8 1)" font-size="32.7" text-anchor="end">−<tspan dx="7">20</tspan></text>
<text transform="translate(1269 406.4) scale(0.8 1)" font-size="32.7" text-anchor="end">40</text>
<text transform="translate(1270 473.3) scale(0.8 1)" font-size="32.7" text-anchor="end">−<tspan dx="7">60</tspan></text>
<text transform="translate(1271 540.1) scale(0.8 1)" font-size="32.7" text-anchor="end">−<tspan dx="7">80</tspan></text>
<text transform="translate(1272 606.9) scale(0.8 1)" font-size="32.7" text-anchor="end">−<tspan dx="7">100</tspan></text>
<text transform="translate(1273 673.8) scale(0.8 1)" font-size="32.7" text-anchor="end">−<tspan dx="7">120</tspan></text>
<text transform="translate(1274 740.6) scale(0.8 1)" font-size="32.7" text-anchor="end">−<tspan dx="7">140</tspan></text>
<text transform="translate(1301 812.3) scale(0.8 1)" font-size="32.7" text-anchor="middle">0</text>
<text transform="translate(1395 838.6) scale(0.8 1)" font-size="32.7" text-anchor="middle">20</text>
<text transform="translate(1489 864.9) scale(0.8 1)" font-size="32.7" text-anchor="middle">40</text>
<text transform="translate(1583 891.2) scale(0.8 1)" font-size="32.7" text-anchor="middle">60</text>
<text transform="translate(1677 917.5) scale(0.8 1)" font-size="32.7" text-anchor="middle">80</text>
<text transform="translate(1773.5 944.6) scale(0.8 1)" font-size="32.7" text-anchor="middle">10</text>
<text transform="translate(1869.5 901.1) scale(0.8 1)" font-size="32.7" text-anchor="middle">5</text>
<text transform="translate(1964 858) scale(0.8 1)" font-size="32.7" text-anchor="middle">0</text>
<text transform="translate(2062.5 812.3) scale(0.8 1)" font-size="32.7" text-anchor="middle">−<tspan dx="7">5</tspan></text>
<text transform="translate(2157.5 768.9) scale(0.8 1)" font-size="32.7" text-anchor="middle">−<tspan dx="7">10</tspan></text>
<text transform="translate(1530 931) scale(0.8 1)" font-size="32.7" text-anchor="start" font-style="italic">t</text>
<text transform="translate(1956.5 915.2) scale(0.8 1)" font-size="32.7" text-anchor="start" font-style="italic">x</text>
<text transform="translate(1163.5 487.5) scale(0.8 1)" font-size="29.4" text-anchor="start" font-style="italic">v</text>
<text transform="translate(1179 503) scale(0.8 1)" font-size="25.1" text-anchor="start">2</text>
</g>
<g font-family="Liberation Serif, serif" fill="#000" stroke="#000" stroke-width="0.5" letter-spacing="-0.8">
<rect x="186" y="1250" width="4" height="1010"/><rect x="186" y="2256" width="933" height="4"/><path d="M197 2259v16M243 2259v8M289 2259v8M335 2259v8M381 2259v8M427 2259v16M473 2259v8M519 2259v8M565 2259v8M611 2259v8M657 2259v16M703 2259v8M749 2259v8M795 2259v8M841 2259v8M887 2259v16M933 2259v8M979 2259v8M1025 2259v8M1071 2259v8M1117 2259v16M187 1391h-15M187 1540h-15M187 1688h-15M187 1837h-15M187 1985h-15M187 2134h-15M187 1317h-8M187 1465h-8M187 1614h-8M187 1762h-8M187 1911h-8M187 2060h-8M187 2208h-8" stroke="#000" stroke-width="4" fill="none"/>
<text x="166.5" y="1404.4" font-size="38" text-anchor="end">400</text>
<text x="166.5" y="1553" font-size="38" text-anchor="end">300</text>
<text x="166.5" y="1701.6" font-size="38" text-anchor="end">200</text>
<text x="166.5" y="1850.2" font-size="38" text-anchor="end">100</text>
<text x="166.5" y="1998.8" font-size="38" text-anchor="end">0</text>
<text y="2147.4" font-size="38"><tspan x="90.5" textLength="15.5" lengthAdjust="spacingAndGlyphs" stroke="#000" stroke-width="1.1">−</tspan><tspan x="112.2">100</tspan></text>
<text y="2312.8" font-size="38"><tspan x="173.9" textLength="15.5" lengthAdjust="spacingAndGlyphs" stroke="#000" stroke-width="1.1">−</tspan><tspan x="196">10</tspan></text>
<text y="2312.8" font-size="38"><tspan x="412.1" textLength="15.5" lengthAdjust="spacingAndGlyphs" stroke="#000" stroke-width="1.1">−</tspan><tspan x="431.5">5</tspan></text>
<text x="656.5" y="2312.8" font-size="38" text-anchor="middle">0</text>
<text x="887.5" y="2312.8" font-size="38" text-anchor="middle">5</text>
<text x="1117" y="2312.8" font-size="38" text-anchor="middle">10</text>
<text x="30.5" y="1757.7" font-size="38" font-style="italic">u</text>
<text x="50" y="1773.7" font-size="28.5">2</text>
<text x="645.5" y="2349.3" font-size="38" font-style="italic">x</text>
</g>
<polyline points="195.8,1447.9 400,1447.9 415.6,1449 427.5,1451.4 435.9,1454.4 441.3,1455.6 446.1,1452.6 449.1,1443.6 451.5,1434 453.3,1419.6 455.1,1401.7 456.9,1383.7 458.7,1359.8 460.5,1335.8 462.3,1311.9 464.1,1290.3 465.9,1273.5 467.7,1261.6 469.5,1254.8 471.9,1252.5 474.9,1258 477.2,1269.9 479.6,1285.5 482.6,1305.9 486.2,1329.8 489.8,1350.2 494.6,1371.7 499.4,1389.7 504.2,1404.1 510.2,1418.4 515,1428 521,1437.6 529.3,1447 540.1,1459.6 560,1479.5 579.6,1507.1 590,1530 598.3,1559.2 604.6,1590.4 609.8,1621.7 614,1659.2 617.5,1700.8 620.2,1742.5 622.7,1784.2 624.8,1825.8 626,1850 628.5,1933.3 631,2016.7 633.3,2100 635.4,2162.5 637.3,2204.2 639,2231.3 640.3,2243 641.5,2247.6 642.8,2242 644.2,2225 645.8,2183.3 647.5,2100 648.8,1975 649.8,1850 651,1742 651.9,1638 653.1,1534 654.1,1470 654.6,1448 655.2,1470 656.2,1534 657.4,1638 658.3,1742 659.5,1850 660.5,1975 661.8,2100 663.5,2183.3 665.1,2225 666.5,2242 667.8,2247.6 669,2243 670.3,2231.3 672,2204.2 673.9,2162.5 676,2100 678.3,2016.7 680.9,1933.3 683.5,1850 684.7,1825.8 687,1784.2 689.6,1742.5 692.5,1700.8 696.2,1659.2 700.8,1621.7 706.4,1590.4 713.2,1559.2 722.1,1530 733,1507.1 752.7,1479.5 772.6,1459.6 783.4,1447 791.7,1437.6 797.7,1428 802.5,1418.4 808.5,1404.1 813.3,1389.7 818.1,1371.7 822.9,1350.2 826.5,1329.8 830.1,1305.9 833.1,1285.5 835.5,1269.9 837.8,1258 840.8,1252.5 843.2,1254.8 845,1261.6 846.8,1273.5 848.6,1290.3 850.4,1311.9 852.2,1335.8 854,1359.8 855.8,1383.7 857.6,1401.7 859.4,1419.6 861.2,1434 863.6,1443.6 866.6,1452.6 871.4,1455.6 876.8,1454.4 885.2,1451.4 897.1,1449 912.7,1447.9 1117,1447.9" fill="none" stroke="#f00" stroke-width="4" stroke-linejoin="round"/>
<g font-family="Liberation Serif, serif" fill="#000" stroke="#000" stroke-width="0.5" letter-spacing="-0.8">
<rect x="1330" y="1259" width="4" height="1001"/><rect x="1330" y="2256" width="935" height="4"/><path d="M1340 2259v16M1387 2259v8M1433 2259v8M1479 2259v8M1525 2259v8M1571 2259v16M1617 2259v8M1663 2259v8M1710 2259v8M1756 2259v8M1802 2259v16M1848 2259v8M1894 2259v8M1940 2259v8M1986 2259v8M2032 2259v16M2078 2259v8M2125 2259v8M2171 2259v8M2217 2259v8M2263 2259v16M1331 1264h-15M1331 1399h-15M1331 1535h-15M1331 1670h-15M1331 1805h-15M1331 1940h-15M1331 2076h-15M1331 2211h-15M1331 1332h-8M1331 1467h-8M1331 1602h-8M1331 1738h-8M1331 1873h-8M1331 2008h-8M1331 2143h-8" stroke="#000" stroke-width="4" fill="none"/>
<text x="1306" y="1278.2" font-size="38" text-anchor="end">20</text>
<text x="1306" y="1413.5" font-size="38" text-anchor="end">0</text>
<text y="1548.8" font-size="38"><tspan x="1250.8" textLength="15.5" lengthAdjust="spacingAndGlyphs" stroke="#000" stroke-width="1.1">−</tspan><tspan x="1270.6">20</tspan></text>
<text y="1684.1" font-size="38"><tspan x="1250.8" textLength="15.5" lengthAdjust="spacingAndGlyphs" stroke="#000" stroke-width="1.1">−</tspan><tspan x="1270.6">40</tspan></text>
<text y="1819.4" font-size="38"><tspan x="1250.8" textLength="15.5" lengthAdjust="spacingAndGlyphs" stroke="#000" stroke-width="1.1">−</tspan><tspan x="1270.6">60</tspan></text>
<text y="1954.7" font-size="38"><tspan x="1250.8" textLength="15.5" lengthAdjust="spacingAndGlyphs" stroke="#000" stroke-width="1.1">−</tspan><tspan x="1270.6">80</tspan></text>
<text y="2090" font-size="38"><tspan x="1232.6" textLength="15.5" lengthAdjust="spacingAndGlyphs" stroke="#000" stroke-width="1.1">−</tspan><tspan x="1252.4">100</tspan></text>
<text y="2225.3" font-size="38"><tspan x="1232.6" textLength="15.5" lengthAdjust="spacingAndGlyphs" stroke="#000" stroke-width="1.1">−</tspan><tspan x="1252.4">120</tspan></text>
<text y="2313" font-size="38"><tspan x="1314.7" textLength="15.5" lengthAdjust="spacingAndGlyphs" stroke="#000" stroke-width="1.1">−</tspan><tspan x="1337.5">10</tspan></text>
<text y="2313" font-size="38"><tspan x="1554.8" textLength="15.5" lengthAdjust="spacingAndGlyphs" stroke="#000" stroke-width="1.1">−</tspan><tspan x="1575">5</tspan></text>
<text x="1799.5" y="2313" font-size="38" text-anchor="middle">0</text>
<text x="2032" y="2313" font-size="38" text-anchor="middle">5</text>
<text x="2263" y="2313" font-size="38" text-anchor="middle">10</text>
<text x="1180.5" y="1759.6" font-size="38" font-style="italic">v</text>
<text x="1197.3" y="1777" font-size="28.5">2</text>
<text x="1789.5" y="2349.3" font-size="38" font-style="italic">x</text>
</g>
<polyline points="1340.4,1269.6 1401.7,1272.7 1456.1,1276.7 1496.9,1281.4 1520,1284.8 1534.9,1286.8 1551.7,1288.8 1561.7,1287.6 1567.6,1284.1 1573.6,1278.2 1578.5,1270.8 1582.5,1264.8 1586,1263 1588.9,1267.8 1590.6,1279.7 1591.9,1294.6 1593.2,1314.4 1594.4,1334.2 1595.4,1359 1596.6,1388.8 1597.4,1413.6 1598.1,1440 1600.9,1591.2 1603.4,1762.4 1606,1933.6 1608.5,2062 1611,2147.6 1613.6,2211.8 1615,2238 1616.3,2248 1617.8,2238 1619.9,2199 1622.4,2147.6 1625.4,2083.4 1628.3,2019.2 1631.7,1933.6 1635.1,1848 1639.3,1762.4 1643.5,1676.8 1648.6,1591.2 1654.9,1505.6 1660.9,1440 1663.9,1418.6 1667.8,1396.7 1672.8,1373.9 1677.7,1355.1 1683.7,1337.2 1690.6,1323.3 1698.6,1309.4 1709.2,1298.5 1722.8,1291.7 1732.4,1290.4 1740,1293.5 1750.9,1301.1 1759.6,1314.2 1765.1,1332.7 1770.5,1354.5 1774.9,1378.5 1778.2,1403.6 1780.9,1423.3 1783.6,1435.3 1785.8,1438.5 1788.5,1434.2 1791.3,1414.5 1792.9,1392.7 1794.2,1365.5 1795.4,1338.2 1796.5,1310.9 1797.6,1283.6 1798.7,1265.1 1799.5,1260.7 1800.2,1265.1 1801.3,1283.6 1802.4,1310.9 1803.5,1338.2 1804.7,1365.5 1806,1392.7 1807.6,1414.5 1810.4,1434.2 1813.1,1438.5 1815.3,1435.3 1818,1423.3 1820.7,1403.6 1824.1,1378.5 1828.6,1354.5 1834.3,1332.7 1840.2,1314.2 1849.6,1301.1 1861.4,1293.5 1869.5,1290.4 1879.5,1291.7 1893.1,1298.5 1903.7,1309.4 1911.7,1323.3 1918.6,1337.2 1924.6,1355.1 1929.5,1373.9 1934.5,1396.7 1938.4,1418.6 1941.4,1440 1947.4,1505.6 1953.7,1591.2 1958.8,1676.8 1963,1762.4 1967.2,1848 1970.6,1933.6 1974,2019.2 1976.9,2083.4 1979.9,2147.6 1982.4,2199 1984.5,2238 1986,2248 1987.3,2238 1988.7,2211.8 1991.3,2147.6 1993.8,2062 1996.3,1933.6 1998.9,1762.4 2001.4,1591.2 2004.2,1440 2004.9,1413.6 2005.7,1388.8 2006.9,1359 2007.9,1334.2 2009.1,1314.4 2010.4,1294.6 2011.7,1279.7 2013.4,1267.8 2016.3,1263 2019.8,1264.8 2023.8,1270.8 2028.7,1278.2 2034.7,1284.1 2040.6,1287.6 2050.6,1288.8 2067.4,1286.8 2082.3,1284.8 2105.4,1281.4 2146.2,1276.7 2200.6,1272.7 2264.1,1269.6" fill="none" stroke="#f00" stroke-width="4" stroke-linejoin="round"/>
<g font-family="Liberation Serif, serif" fill="#000" font-size="75">
<text transform="translate(567.3 1104.4) scale(0.95 1.04)" text-anchor="middle">(<tspan font-weight="bold">a</tspan>)</text>
<text transform="translate(1714 1104.4) scale(0.95 1.04)" text-anchor="middle">(<tspan font-weight="bold">b</tspan>)</text>
<text transform="translate(567.6 2482.7) scale(0.95 1.04)" text-anchor="middle">(<tspan font-weight="bold">c</tspan>)</text>
<text transform="translate(1714 2482.7) scale(0.95 1.04)" text-anchor="middle">(<tspan font-weight="bold">d</tspan>)</text>
</g>
</svg>
</body></html>
